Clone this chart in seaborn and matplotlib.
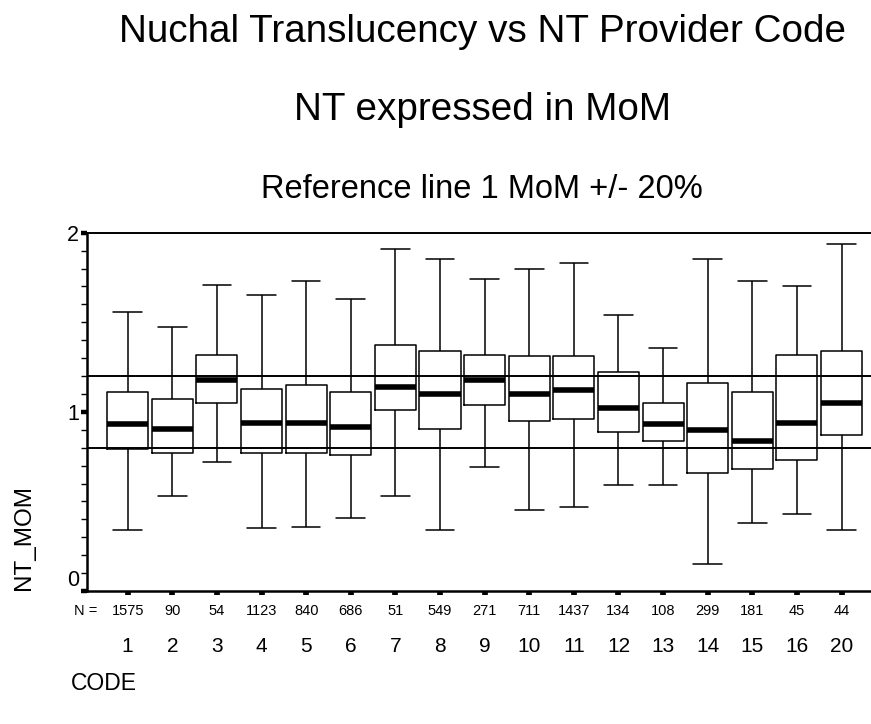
import pandas as pd
import matplotlib
matplotlib.use("Agg")
import matplotlib.pyplot as plt
import matplotlib.transforms as mtransforms
from matplotlib.ticker import MultipleLocator
import seaborn as sns

codes = ["1", "2", "3", "4", "5", "6", "7", "8", "9", "10", "11", "12", "13", "14", "15", "16", "20"]
counts = [1575, 90, 54, 1123, 840, 686, 51, 549, 271, 711, 1437, 134, 108, 299, 181, 45, 44]

# box summary (NT in MoM)
whisker_low = [0.34, 0.53, 0.72, 0.35, 0.36, 0.41, 0.53, 0.34, 0.69, 0.45, 0.47, 0.59, 0.59, 0.15, 0.38, 0.43, 0.34]
q1 = [0.795, 0.77, 1.05, 0.77, 0.77, 0.76, 1.01, 0.905, 1.04, 0.95, 0.96, 0.885, 0.84, 0.66, 0.68, 0.73, 0.87]
median = [0.93, 0.905, 1.18, 0.94, 0.94, 0.915, 1.14, 1.10, 1.18, 1.10, 1.12, 1.02, 0.93, 0.90, 0.84, 0.94, 1.05]
q3 = [1.11, 1.07, 1.32, 1.13, 1.15, 1.11, 1.375, 1.34, 1.32, 1.31, 1.31, 1.22, 1.05, 1.16, 1.11, 1.32, 1.34]
whisker_high = [1.555, 1.475, 1.71, 1.655, 1.73, 1.63, 1.91, 1.855, 1.74, 1.80, 1.83, 1.54, 1.355, 1.855, 1.73, 1.70, 1.935]

ref_lines = [0.8, 1.2]

sns.set_style("ticks")
plt.rcParams["font.family"] = ["Liberation Sans", "DejaVu Sans"]
for key in ["text.color", "axes.labelcolor", "xtick.color", "ytick.color", "axes.edgecolor"]:
    plt.rcParams[key] = "black"

# five numbers per code: with whis=(0, 100) seaborn gives back exactly these
rows = []
for i, c in enumerate(codes):
    for v in (whisker_low[i], q1[i], median[i], q3[i], whisker_high[i]):
        rows.append({"CODE": c, "NT_MOM": v})
df = pd.DataFrame(rows)

fig = plt.figure(figsize=(8.71, 7.24), dpi=100)
ax = fig.add_axes([0.0995, 0.1837, 0.9005, 0.4949])

sns.boxplot(
    data=df, x="CODE", y="NT_MOM", order=codes, ax=ax,
    whis=(0, 100), width=0.92, fill=False, color="black", linewidth=1.1,
    showfliers=False, capwidths=0.64,
    medianprops={"linewidth": 4.0, "color": "black"},
)

for r in ref_lines:
    ax.axhline(r, color="black", linewidth=1.4, zorder=5)

ax.set_xlim(-0.919, 16.66)
ax.set_ylim(0, 2)
ax.set_xlabel("")
ax.set_ylabel("")

for side in ["left", "bottom"]:
    ax.spines[side].set_linewidth(1.8)
ax.spines["top"].set_linewidth(1.4)
ax.spines["right"].set_visible(False)

ax.set_yticks([0, 1, 2])
ax.set_yticklabels(["0", "1", "2"])
ax.get_yticklabels()[0].set_va("bottom")
ax.yaxis.set_minor_locator(MultipleLocator(0.1))
ax.tick_params(axis="y", which="major", direction="out", length=4.3, width=3.2,
               labelsize=15.5, pad=1, color="black")
ax.tick_params(axis="y", which="minor", direction="out", length=4.3, width=1.0, color="black")
ax.tick_params(axis="x", which="major", direction="out", length=3.1, width=4.1,
               labelsize=15, pad=30, color="black")
ax.tick_params(axis="x", which="minor", length=0)

# N counts row under the axis
trans = mtransforms.blended_transform_factory(ax.transData, ax.transAxes)
n_y = -20 / 358.3
for i, n in enumerate(counts):
    ax.text(i, n_y, str(n), transform=trans, ha="center", va="center", fontsize=10.5)
ax.text(-0.93, n_y, "N =", transform=trans, ha="center", va="center", fontsize=10.5)

fig.text(482 / 871, 1 - 42.5 / 724, "Nuchal Translucency vs NT Provider Code",
         ha="center", va="baseline", fontsize=27.8)
fig.text(482 / 871, 1 - 119.5 / 724, "NT expressed in MoM",
         ha="center", va="baseline", fontsize=27.8)
fig.text(482 / 871, 1 - 197.5 / 724, "Reference line 1 MoM +/- 20%",
         ha="center", va="baseline", fontsize=23.5)

fig.text(24 / 871, 1 - 538 / 724, "NT_MOM", rotation=90, ha="center", va="center", fontsize=17.5)
fig.text(71 / 871, 1 - 683 / 724, "CODE", ha="left", va="center", fontsize=16.5)

fig.savefig("out.png", dpi=100)
